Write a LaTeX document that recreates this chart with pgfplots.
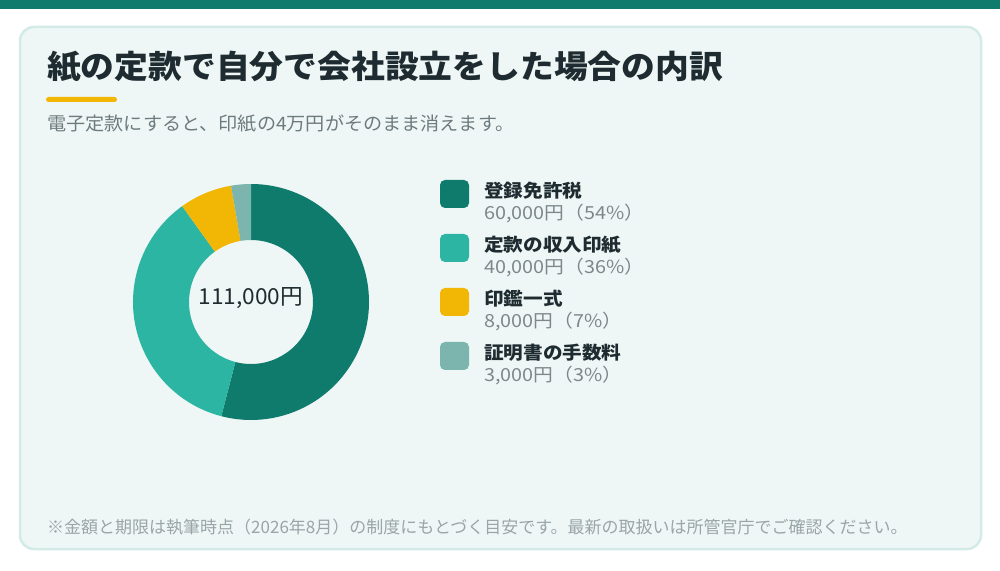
\documentclass[border=0pt]{standalone}
\usepackage{fontspec}
\setmainfont{Noto Sans CJK JP}
\usepackage{graphicx}
\usepackage{pgfplots}
\usepackage{pgfplotstable}
\pgfplotsset{compat=1.18}

\definecolor{cDark}{HTML}{0F7B6C}
\definecolor{cTeal}{HTML}{2DB5A3}
\definecolor{cGold}{HTML}{F2B705}
\definecolor{cSage}{HTML}{7BB5AD}
\definecolor{cardfill}{HTML}{EEF7F6}
\definecolor{cardline}{HTML}{D3EBE7}
\definecolor{ink}{HTML}{1E2B30}
\definecolor{subgray}{HTML}{6E7B7E}
\definecolor{valgray}{HTML}{7D888B}
\definecolor{footgray}{HTML}{9AA5A8}

% costs of setting up the company with a paper articles of incorporation
\pgfplotstableread[col sep=comma]{
name,value
登録免許税,60000
定款の収入印紙,40000
印鑑一式,8000
証明書の手数料,3000
}\costs

\newcommand\wide[2]{\scalebox{#1}[1]{#2}}

\begin{document}
\begin{tikzpicture}[x=1pt,y=1pt]
\path[use as bounding box] (0,0) rectangle (1000,570);
\fill[white] (0,0) rectangle (1000,570);
\fill[cDark] (0,561) rectangle (1000,570);
\draw[line width=2.5pt, draw=cardline, fill=cardfill, rounded corners=14pt] (20,21) rectangle (981,543);

\node[anchor=base west, inner sep=0pt, text=ink, font=\fontsize{32}{36}\selectfont\bfseries] at (47,491) {\wide{1.056}{紙の定款で自分で会社設立をした場合の内訳}};
\fill[cGold, rounded corners=2.5pt] (46,468) rectangle (117,473);
\node[anchor=base west, inner sep=0pt, text=subgray, font=\fontsize{18.5}{22}\selectfont] at (47,439) {\wide{1.034}{電子定款にすると、印紙の4万円がそのまま消えます。}};

% slice angles, clockwise from the top
\pgfplotstablegetelem{0}{value}\of\costs \let\va\pgfplotsretval
\pgfplotstablegetelem{1}{value}\of\costs \let\vb\pgfplotsretval
\pgfplotstablegetelem{2}{value}\of\costs \let\vc\pgfplotsretval
\pgfplotstablegetelem{3}{value}\of\costs \let\vd\pgfplotsretval
\pgfkeys{/pgf/fpu=true,/pgf/fpu/output format=fixed}
\pgfmathsetmacro\total{\va+\vb+\vc+\vd}
\pgfmathsetmacro\aA{90}
\pgfmathsetmacro\aB{\aA-360*\va/\total}
\pgfmathsetmacro\aC{\aB-360*\vb/\total}
\pgfmathsetmacro\aD{\aC-360*\vc/\total}
\pgfmathsetmacro\aE{\aD-360*\vd/\total}
\pgfkeys{/pgf/fpu=false}
\def\Ro{118pt}
\def\Ri{62pt}
\newcommand\slice[3]{%
  \fill[#3] (axis cs:0,0) ++(#1:\Ro) arc[start angle=#1, end angle=#2, radius=\Ro]
    -- ++(#2:-56pt) arc[start angle=#2, end angle=#1, radius=\Ri] -- cycle;}

\begin{axis}[
    at={(251pt,268pt)}, anchor=center,
    width=236pt, height=236pt, scale only axis,
    xmin=-1, xmax=1, ymin=-1, ymax=1,
    hide axis, clip=false,
    ]
\slice{\aA}{\aB}{cDark}
\slice{\aB}{\aC}{cTeal}
\slice{\aC}{\aD}{cGold}
\slice{\aD}{\aE}{cSage}
\node[text=ink, font=\fontsize{22}{24}\selectfont, anchor=center] at (axis cs:0,0.03) {\wide{1.03}{111,000円}};
\end{axis}

% legend
\foreach \i/\c/\lab/\val in {0/cDark/登録免許税/{60,000円（54\%）},
                               1/cTeal/定款の収入印紙/{40,000円（36\%）},
                               2/cGold/印鑑一式/{8,000円（7\%）},
                               3/cSage/証明書の手数料/{3,000円（3\%）}}{
  \fill[\c, rounded corners=5pt] (440,{362-54*\i}) rectangle (469,{390-54*\i});
  \node[anchor=base west, inner sep=0pt, text=ink, font=\fontsize{18}{20}\selectfont\bfseries] at (484,{372-54*\i}) {\wide{1.09}{\lab}};
  \node[anchor=base west, inner sep=0pt, text=valgray, font=\fontsize{18}{20}\selectfont] at (484,{350-54*\i}) {\wide{1.1}{\val}};
}

\node[anchor=base west, inner sep=0pt, text=footgray, font=\fontsize{17}{20}\selectfont] at (47,37) {※金額と期限は執筆時点（2026年8月）の制度にもとづく目安です。最新の取扱いは所管官庁でご確認ください。};
\end{tikzpicture}
\end{document}
